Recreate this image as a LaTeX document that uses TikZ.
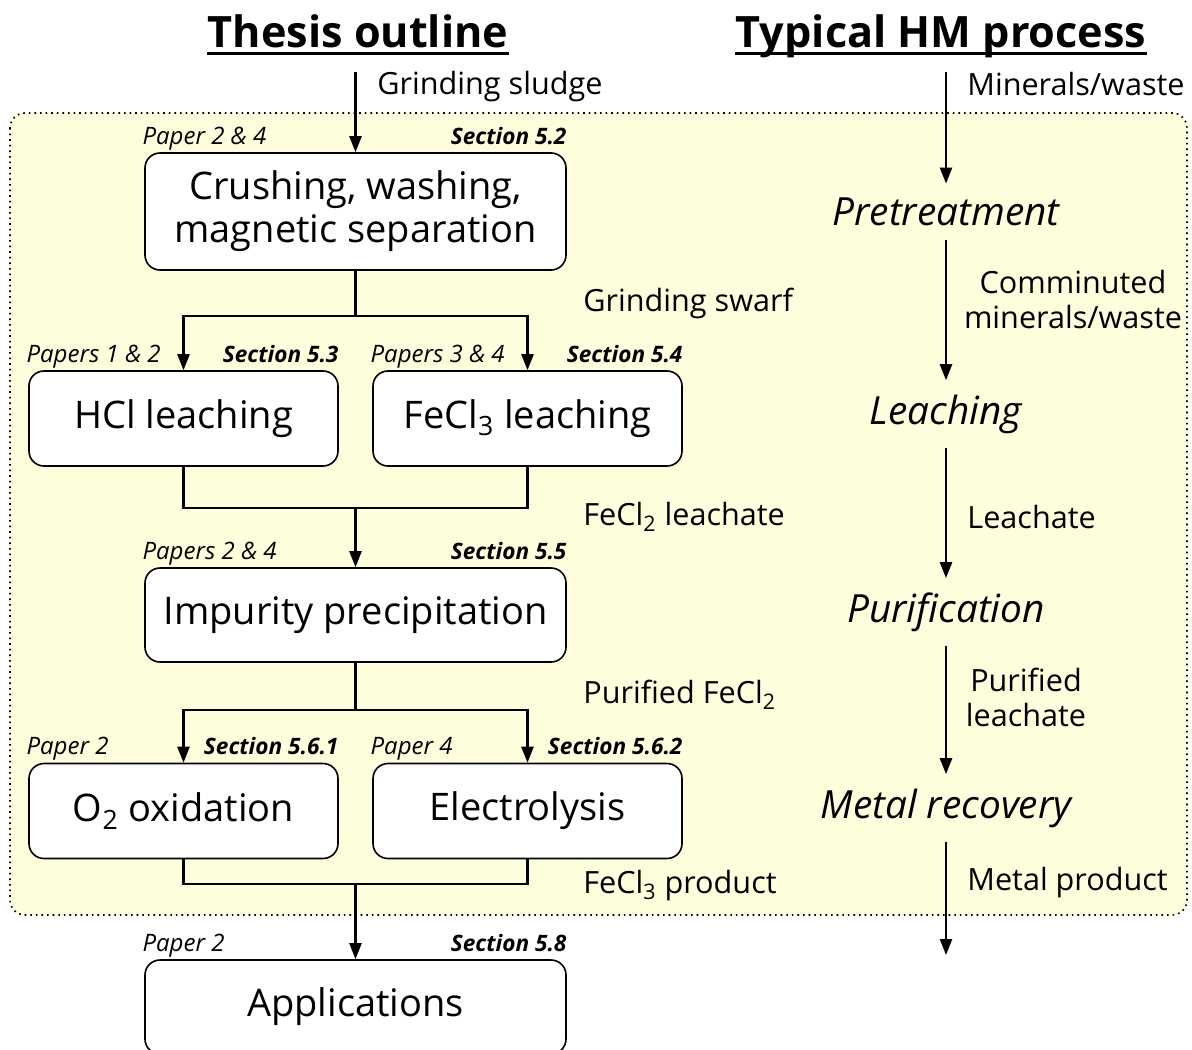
\documentclass[tikz,border=0pt]{standalone}
\usepackage{fontspec}
\setmainfont{Open Sans}
\usetikzlibrary{arrows.meta,positioning,calc}
\definecolor{ink}{HTML}{000000}
\definecolor{pale}{HTML}{FEFDDC}

\begin{document}
\begin{tikzpicture}[x=0.5pt, y=-0.5pt,
  >={Triangle[length=8pt, width=6pt]},
  box/.style={draw=ink, line width=0.8pt, rounded corners=7.5pt, fill=white, align=center, font=\fontsize{19}{21.5}\selectfont, inner sep=0pt},
  wide/.style={box, minimum width=210.5pt},
  half/.style={box, minimum width=154.5pt, minimum height=47.5pt},
  ppr/.style={font=\fontsize{12}{14}\selectfont\itshape, inner sep=0pt, anchor=base west},
  sec/.style={font=\fontsize{11.3}{14}\selectfont\bfseries\itshape, inner sep=0pt, anchor=base east},
  lbl/.style={font=\fontsize{15.3}{17.5}\selectfont, align=center, inner sep=0pt},
  stg/.style={font=\fontsize{19.4}{22}\selectfont\itshape, inner ysep=7pt},
  ttl/.style={font=\fontsize{21.6}{24}\selectfont\bfseries, inner sep=0pt, anchor=base},
  pw/.style={draw=ink, line width=1.2pt}]
\useasboundingbox (0,0) rectangle (1192,1049);
\clip (0,0) rectangle (1192,1049);
% frame
\draw[pale, fill=pale, rounded corners=7.5pt] (10,113) rectangle (1187,915);
\draw[ink, line width=0.8pt, dotted, rounded corners=7.5pt] (10,113) rectangle (1187,915);
% titles
\node[ttl] (t1) at (358,47) {Thesis outline};
\node[ttl] (t2) at (941,47) {Typical HM process};
\draw[line width=1.5pt] ($(t1.base west)+(0,6)$) -- ($(t1.base east)+(0,6)$);
\draw[line width=1.5pt] ($(t2.base west)+(0,6)$) -- ($(t2.base east)+(0,6)$);
% thesis outline
\coordinate (in1) at (355.5,72);
\node[wide, minimum height=58.5pt] (crush) at (355.5,211.5) {Crushing, washing,\\magnetic separation};
\node[half] (hcl) at (183.5,418.5) {HCl leaching};
\node[half] (fecl) at (527.5,418.5) {FeCl\textsubscript{3} leaching};
\node[wide, minimum height=47pt] (imp) at (355.5,615) {Impurity precipitation};
\node[half] (oxi) at (183.5,811) {O\textsubscript{2} oxidation};
\node[half] (ele) at (527.5,811) {Electrolysis};
\node[wide, minimum height=47pt] (app) at (355.5,1007) {Applications};
\coordinate (sp1) at (355.5,316); \coordinate (mg1) at (355.5,508);
\coordinate (sp2) at (355.5,710); \coordinate (mg2) at (355.5,884);
\draw[pw,->] (in1) -- (crush);
\draw[pw] (crush) -- (sp1);
\draw[pw,->] (sp1) -| (hcl.north); \draw[pw,->] (sp1) -| (fecl.north);
\draw[pw] (hcl.south) |- (mg1) -| (fecl.south);
\draw[pw,->] (mg1) -- (imp);
\draw[pw] (imp) -- (sp2);
\draw[pw,->] (sp2) -| (oxi.north); \draw[pw,->] (sp2) -| (ele.north);
\draw[pw] (oxi.south) |- (mg2) -| (ele.south);
\draw[pw,->] (mg2) -- (app);
% papers / sections
\node[ppr] at ($(crush.north west)+(-2,-8)$) {Paper 2 \& 4};
\node[sec] at ($(crush.north east)+(0,-8)$) {Section 5.2};
\node[ppr] at ($(hcl.north west)+(-2,-8)$) {Papers 1 \& 2};
\node[sec] at ($(hcl.north east)+(0,-8)$) {Section 5.3};
\node[ppr] at ($(fecl.north west)+(-2,-8)$) {Papers 3 \& 4};
\node[sec] at ($(fecl.north east)+(0,-8)$) {Section 5.4};
\node[ppr] at ($(imp.north west)+(-2,-8)$) {Papers 2 \& 4};
\node[sec] at ($(imp.north east)+(0,-8)$) {Section 5.5};
\node[ppr] at ($(oxi.north west)+(-2,-8)$) {Paper 2};
\node[sec] at ($(oxi.north east)+(0,-8)$) {Section 5.6.1};
\node[ppr] at ($(ele.north west)+(-2,-8)$) {Paper 4};
\node[sec] at ($(ele.north east)+(0,-8)$) {Section 5.6.2};
\node[ppr] at ($(app.north west)+(-2,-8)$) {Paper 2};
\node[sec] at ($(app.north east)+(0,-8)$) {Section 5.8};
% stream labels
\node[lbl, anchor=west] (l1) at (377,87) {Grinding sludge};
\node[lbl, anchor=west] (l2) at (583,303) {Grinding swarf};
\node[lbl, anchor=west] (l3) at (583,517) {FeCl\textsubscript{2} leachate};
\node[lbl, anchor=west] (l4) at (583,695) {Purified FeCl\textsubscript{2}};
\node[lbl, anchor=west] (l5) at (583,886) {FeCl\textsubscript{3} product};
% typical HM process
\coordinate (in2) at (946,72);
\node[stg] (pre) at (946,212) {Pretreatment};
\node[stg] (lea) at (946,414) {Leaching};
\node[stg] (pur) at (946,612) {Purification};
\node[stg] (met) at (946,808) {Metal recovery};
\coordinate (out2) at (946,955);
\draw[pw,->] (in2) -- (pre);
\draw[pw,->] (pre) -- (lea);
\draw[pw,->] (lea) -- (pur);
\draw[pw,->] (pur) -- (met);
\draw[pw,->] (met) -- (out2);
\node[lbl, anchor=west] at (967,84) {Minerals/waste};
\node[lbl] at (1073,300) {Comminuted\\minerals/waste};
\node[lbl, anchor=west] at (967,517) {Leachate};
\node[lbl] at (1026,697) {Purified\\leachate};
\node[lbl, anchor=west] at (967,883) {Metal product};
\end{tikzpicture}
\end{document}
